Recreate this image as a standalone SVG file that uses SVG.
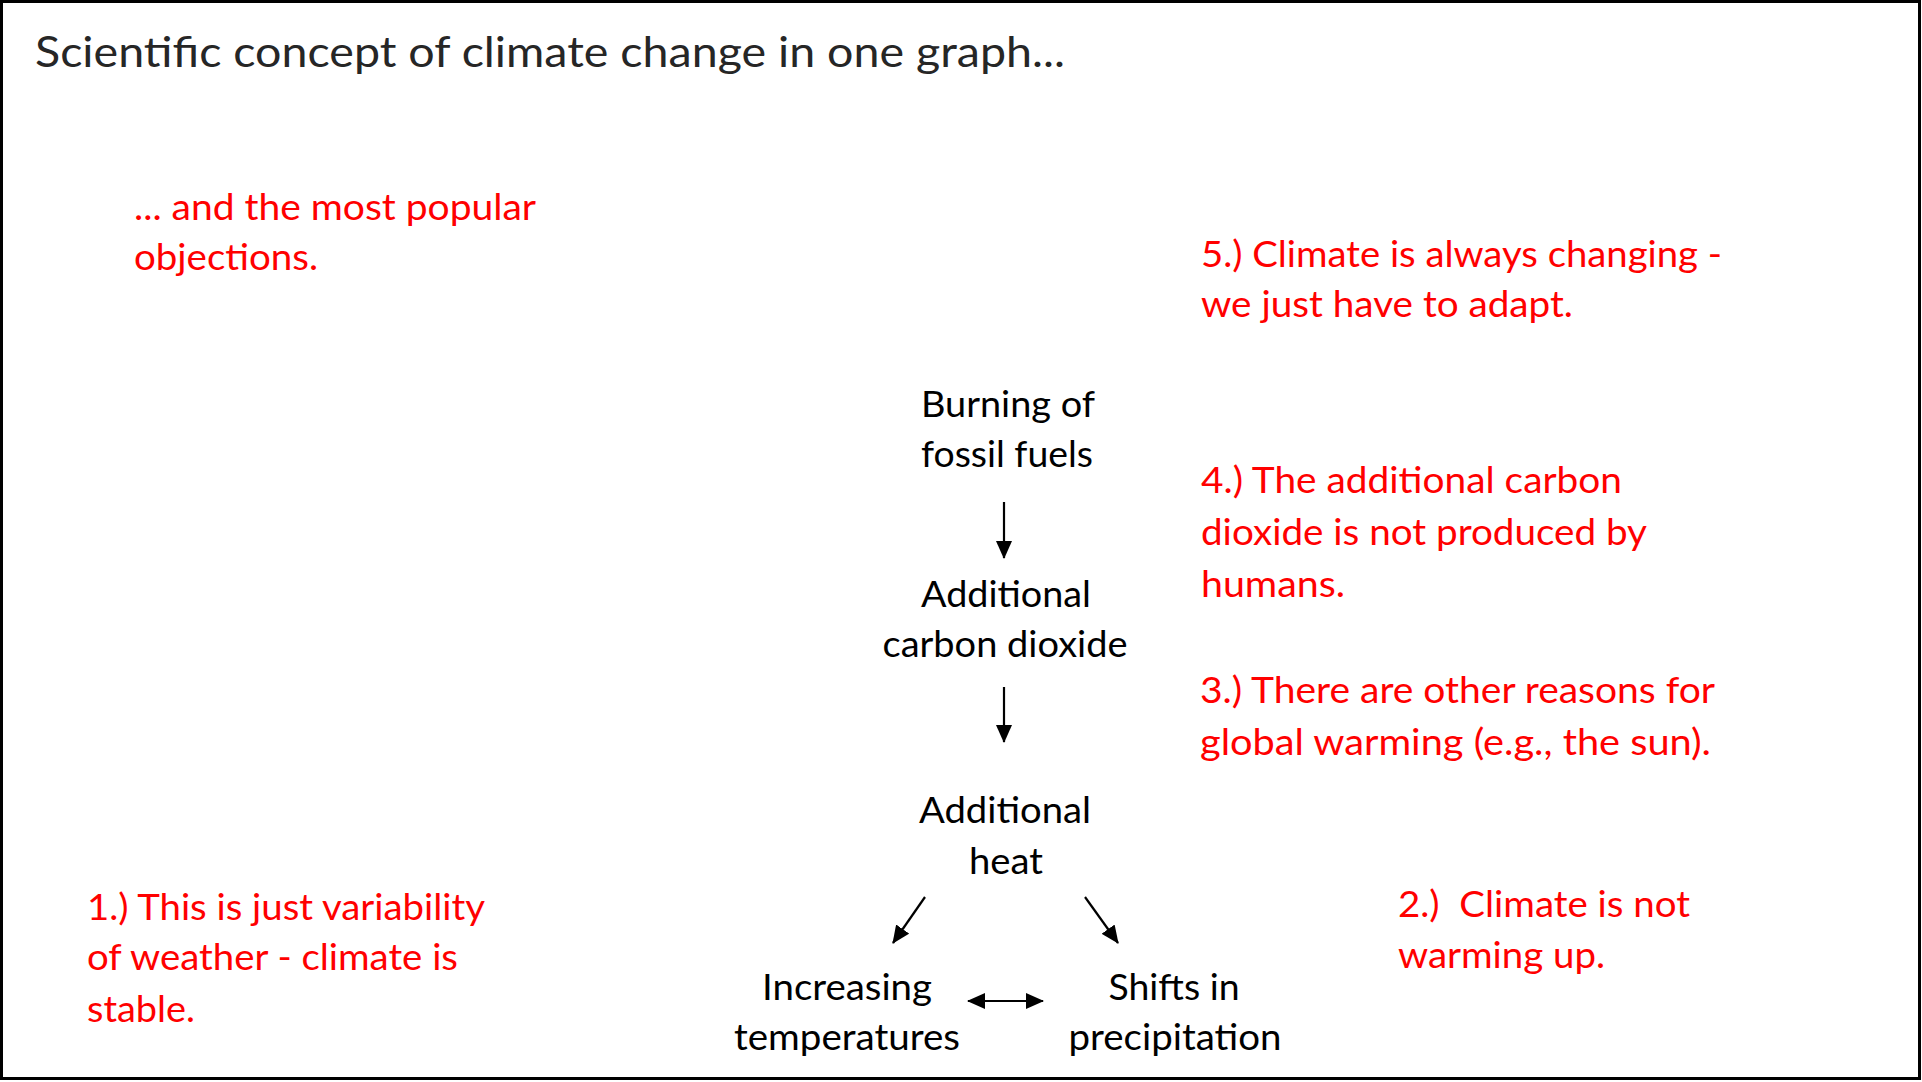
<svg xmlns="http://www.w3.org/2000/svg" width="1922" height="1082" viewBox="0 0 1922 1082">
<style>
.t{font-family:Lato,"Noto Sans","Liberation Sans",sans-serif;font-size:37px;}
.red{fill:#FF0000;}
.blk{fill:#000000;text-anchor:middle;}
.title{font-family:Lato,"Noto Sans","Liberation Sans",sans-serif;font-size:42px;fill:#262626;}
.arr{stroke:#000;stroke-width:2.2;fill:none;}
</style>
<defs>
<marker id="ah" markerUnits="userSpaceOnUse" markerWidth="18" markerHeight="16" viewBox="0 0 18 16" refX="17" refY="8" orient="auto-start-reverse">
<path d="M0,0 L18,8 L0,16 Z" fill="#000"/>
</marker>
</defs>
<rect x="1.5" y="1.5" width="1918" height="1077" fill="#FFFFFF" stroke="#000" stroke-width="3"/>
<g id="title"><text class="title" x="35" y="67" textLength="1030" lengthAdjust="spacingAndGlyphs">Scientific concept of climate change in one graph...</text></g>
<g id="objections-intro"><text class="t red" x="134" y="220" textLength="402" lengthAdjust="spacingAndGlyphs">... and the most popular</text><text class="t red" x="134" y="270" textLength="184" lengthAdjust="spacingAndGlyphs">objections.</text></g>
<g id="obj5"><text class="t red" x="1201" y="267" textLength="521" lengthAdjust="spacingAndGlyphs">5.) Climate is always changing -</text><text class="t red" x="1201" y="317" textLength="372" lengthAdjust="spacingAndGlyphs">we just have to adapt.</text></g>
<g id="obj4"><text class="t red" x="1201" y="493" textLength="421" lengthAdjust="spacingAndGlyphs">4.) The additional carbon</text><text class="t red" x="1201" y="545" textLength="446" lengthAdjust="spacingAndGlyphs">dioxide is not produced by</text><text class="t red" x="1201" y="597" textLength="144" lengthAdjust="spacingAndGlyphs">humans.</text></g>
<g id="obj3"><text class="t red" x="1200" y="703" textLength="515" lengthAdjust="spacingAndGlyphs">3.) There are other reasons for</text><text class="t red" x="1200" y="755" textLength="511" lengthAdjust="spacingAndGlyphs">global warming (e.g., the sun).</text></g>
<g id="obj1"><text class="t red" x="87" y="920" textLength="398" lengthAdjust="spacingAndGlyphs">1.) This is just variability</text><text class="t red" x="87" y="970" textLength="371" lengthAdjust="spacingAndGlyphs">of weather - climate is</text><text class="t red" x="87" y="1022" textLength="108" lengthAdjust="spacingAndGlyphs">stable.</text></g>
<g id="obj2"><text class="t red" x="1398" y="917" textLength="292" lengthAdjust="spacingAndGlyphs" xml:space="preserve">2.)  Climate is not</text><text class="t red" x="1398" y="968" textLength="207" lengthAdjust="spacingAndGlyphs">warming up.</text></g>
<g id="n-burning"><text class="t blk" x="1008" y="417" textLength="174" lengthAdjust="spacingAndGlyphs">Burning of</text><text class="t blk" x="1007" y="467" textLength="172" lengthAdjust="spacingAndGlyphs">fossil fuels</text></g>
<g id="n-co2"><text class="t blk" x="1006" y="607" textLength="170" lengthAdjust="spacingAndGlyphs">Additional</text><text class="t blk" x="1005" y="657" textLength="245" lengthAdjust="spacingAndGlyphs">carbon dioxide</text></g>
<g id="n-heat"><text class="t blk" x="1005" y="823" textLength="172" lengthAdjust="spacingAndGlyphs">Additional</text><text class="t blk" x="1006" y="874" textLength="74" lengthAdjust="spacingAndGlyphs">heat</text></g>
<g id="n-temp"><text class="t blk" x="847" y="1000" textLength="170" lengthAdjust="spacingAndGlyphs">Increasing</text><text class="t blk" x="847" y="1050" textLength="226" lengthAdjust="spacingAndGlyphs">temperatures</text></g>
<g id="n-precip"><text class="t blk" x="1174" y="1000" textLength="131" lengthAdjust="spacingAndGlyphs">Shifts in</text><text class="t blk" x="1175" y="1050" textLength="213" lengthAdjust="spacingAndGlyphs">precipitation</text></g>
<g id="connectors">
<line class="arr" x1="1004" y1="502" x2="1004" y2="558" marker-end="url(#ah)"/>
<line class="arr" x1="1004" y1="687" x2="1004" y2="742" marker-end="url(#ah)"/>
<line class="arr" x1="925" y1="897" x2="893" y2="943" marker-end="url(#ah)"/>
<line class="arr" x1="1085" y1="897" x2="1118" y2="943" marker-end="url(#ah)"/>
<line class="arr" x1="968" y1="1001" x2="1043" y2="1001" marker-start="url(#ah)" marker-end="url(#ah)"/>
</g>
</svg>
